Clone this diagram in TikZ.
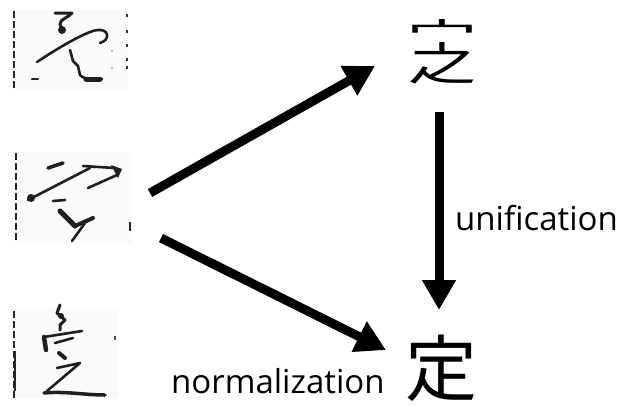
\documentclass[tikz,border=0pt]{standalone}
\usepackage{graphicx}
\usepackage{fontspec}
\setmainfont{Open Sans}
\newfontfamily\cjk{Noto Sans CJK JP}
\usetikzlibrary{arrows.meta}
\tikzset{
  bigarrow/.style={line width=9bp, -{Triangle[length=30bp,width=32bp]}},
  scan/.style={line width=2.6bp, line cap=round, line join=round, black!88},
  scanborder/.style={line width=2bp, black!85, dash pattern=on 7bp off 3bp},
  lbl/.style={font=\fontsize{33bp}{38bp}\selectfont, inner sep=0pt},
  glyph/.style={font=\cjk\fontsize{72bp}{80bp}\selectfont, inner sep=0pt},
  scanbox/.style={fill=black!2, minimum width=#1, inner sep=0pt},
}
\begin{document}
\begin{tikzpicture}[x=1bp, y=-1bp]
\useasboundingbox (0,0) rectangle (619,405);
% scanned samples (backgrounds)
\node[scanbox=115bp, minimum height=80bp] (s1) at (70,50) {};
\node[scanbox=118bp, minimum height=92bp] (s2) at (73,198) {};
\node[scanbox=105bp, minimum height=90bp] (s3) at (65,353) {};
% sample 1
\draw[scanborder] (14,11) -- (14,90);
\draw[scan, line width=3bp] (55,13) -- (72,13) .. controls (68,18) and (60,19) .. (60,24) -- (62,30);
\fill[black!88] (62,30) circle (4);
\draw[scan] (37,62) .. controls (55,50) and (75,38) .. (90,32) .. controls (100,28) and (108,30) .. (107,37) .. controls (106,41) and (102,42) .. (100,43);
\draw[scan] (70,50) -- (73,61) -- (78,66) -- (80,75) .. controls (85,80) and (95,80) .. (102,79);
\draw[scan, line width=5bp] (86,79) -- (100,79);
\draw[scan] (32,79) -- (38,79);
\foreach \yy in {14,30,44,58,66} \fill[black!80] (126,\yy) rectangle (128,\yy+3);
\fill[black!40] (112,51) circle (1); \fill[black!40] (112,68) circle (1);
% sample 2
\draw[scanborder] (16,153) -- (16,243);
\draw[scan, line width=3.5bp] (48,168) -- (63,163);
\draw[scan] (28,200) -- (90,168);
\fill[black!88] (31,198) circle (4);
\draw[scan] (83,166) -- (115,168);
\fill[black!88] (111,165) -- (122,169) -- (118,178) -- cycle;
\draw[scan] (117,175) -- (88,188);
\draw[scan] (53,201) -- (65,200);
\draw[scan, line width=5bp] (60,211) -- (75,226);
\draw[scan, line width=4bp] (75,226) -- (93,218);
\draw[scan] (85,223) -- (72,241);
\draw[line width=2bp, black!85] (130,222) -- (130,231);
% sample 3
\draw[scanborder] (14,311) -- (14,398);
\draw[line width=2.2bp, black!85] (15,351) -- (15,391);
\draw[scan, line width=3bp] (60,305) -- (57,313) -- (65,320) -- (60,325) -- (60,330);
\fill[black!88] (61,316) circle (3);
\draw[scan, line width=4.5bp] (46,350) -- (44,337);
\draw[scan] (44,337) -- (82,331);
\draw[scan] (55,343) -- (73,338);
\draw[scan, line width=4bp] (59,353) -- (65,358);
\draw[scan] (57,368) -- (80,363) -- (47,391);
\draw[scan, line width=3.5bp] (44,393) .. controls (65,391) and (85,395) .. (105,395);
\draw[line width=1.5bp, black!70] (115,336) -- (115,340);
% glyphs
\node[inner sep=0pt, font=\cjk] (v) at (442,52) {\vbox{\offinterlineskip
  \hbox to 72bp{\hss\resizebox{72bp}{23bp}{宀}\hss}\kern0.5bp
  \hbox to 72bp{\hss\resizebox{68bp}{38bp}{之}\hss}}};
\node[glyph] (d) at (441,368) {定};
% arrow anchors
\coordinate (a1s) at (150,193);
\coordinate (a1e) at (375,66);
\coordinate (a2s) at (161,238);
\coordinate (a2e) at (386,350);
\coordinate (a3s) at (439,112);
\coordinate (a3e) at (439,310);
\draw[bigarrow] (a1s) -- (a1e);
\draw[bigarrow] (a2s) -- (a2e);
\draw[bigarrow] (a3s) -- (a3e);
% labels
\node[lbl, anchor=base west] (u) at (455,230) {unification};
\node[lbl, anchor=base west] (n) at (171,393) {normalization};
\end{tikzpicture}
\end{document}
